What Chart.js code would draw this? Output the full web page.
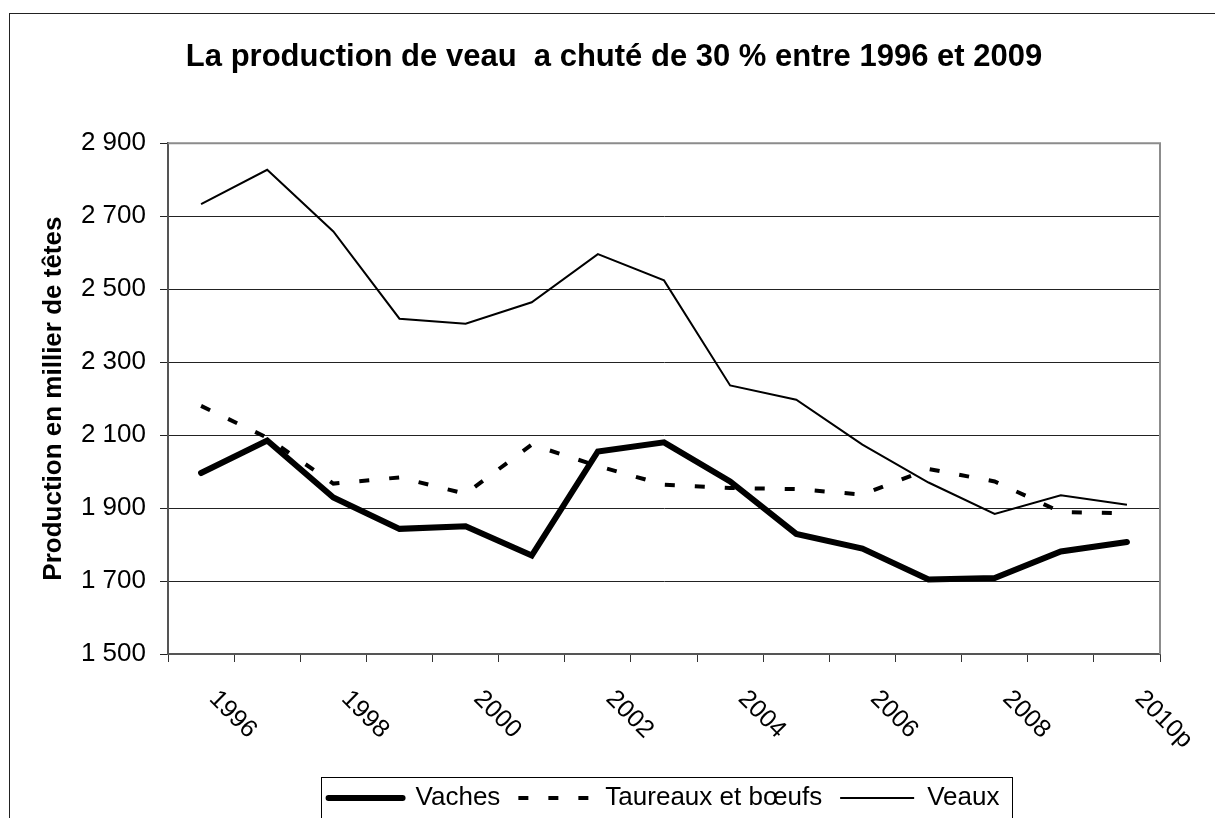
<!DOCTYPE html>
<html>
<head>
<meta charset="utf-8">
<script src="https://cdn.jsdelivr.net/npm/chart.js@4.4.1/dist/chart.umd.min.js"></script>
<style>
  html, body { margin: 0; padding: 0; background: #fff; }
  canvas { display: block; }
</style>
</head>
<body>
<canvas id="c" width="1215" height="818"></canvas>
<script>
// ---- data ----
const categories = ['1996','1997','1998','1999','2000','2001','2002','2003','2004','2005','2006','2007','2008','2009','2010p'];
const vaches   = [1996, 2085, 1929, 1843, 1850, 1770, 2055, 2080, 1973, 1829, 1789, 1704, 1708, 1781, 1807];
const taureaux = [2180, 2093, 1967, 1984, 1939, 2074, 2015, 1964, 1955, 1952, 1937, 2007, 1973, 1889, 1886];
const veaux    = [2733, 2827, 2658, 2419, 2405, 2464, 2596, 2524, 2236, 2197, 2074, 1970, 1884, 1935, 1909];
const yMin = 1500, yMax = 2900, yStep = 200;
const titleText = 'La production de veau  a chuté de 30 % entre 1996 et 2009';
const yTitleText = 'Production en millier de têtes';
const seriesNames = ['Vaches', 'Taureaux et bœufs', 'Veaux'];

const FONT = "'Liberation Sans', Arial, sans-serif";

function fmt(v) { return String(v).replace(/\B(?=(\d{3})+(?!\d))/g, ' '); }

const decor = {
  id: 'decor',
  beforeDatasetsDraw(chart) {
    const {ctx, chartArea: a} = chart;
    ctx.save();
    ctx.strokeStyle = '#8c8c8c';
    ctx.lineWidth = 2;
    ctx.beginPath();
    ctx.moveTo(a.left, a.top);
    ctx.lineTo(a.right, a.top);
    ctx.lineTo(a.right, a.bottom);
    ctx.stroke();
    ctx.restore();
  },
  afterDraw(chart) {
    const {ctx} = chart;
    const xs = chart.scales.x;
    // rotated category labels (every other category)
    ctx.save();
    ctx.fillStyle = '#000';
    ctx.font = '25px ' + FONT;
    ctx.textAlign = 'left';
    ctx.textBaseline = 'middle';
    categories.forEach((lab, i) => {
      if (i % 2 !== 0) return;
      const x = xs.getPixelForValue(i) + 12;
      const y = xs.top + 41;
      ctx.save();
      ctx.translate(x, y);
      ctx.rotate(Math.PI / 4);
      ctx.fillText(lab, 0, 0);
      ctx.restore();
    });
    ctx.restore();
    // legend frame
    const lg = chart.legend;
    if (lg && lg.legendHitBoxes && lg.legendHitBoxes.length) {
      const hb = lg.legendHitBoxes;
      let l = Infinity, r = -Infinity, t = Infinity, b = -Infinity;
      hb.forEach(h => { l = Math.min(l, h.left); r = Math.max(r, h.left + h.width); t = Math.min(t, h.top); b = Math.max(b, h.top + h.height); });
      ctx.save();
      ctx.strokeStyle = '#000';
      ctx.lineWidth = 1;
      ctx.strokeRect(Math.round(l - 8) + 0.5, Math.round(t - 8) + 0.5, Math.round(r - l + 20), Math.round(b - t + 16));
      ctx.restore();
    }
    // outer frame
    ctx.save();
    ctx.strokeStyle = '#222';
    ctx.lineWidth = 1;
    ctx.strokeRect(9.5, 13.5, 1300, 900);
    ctx.restore();
  }
};

new Chart(document.getElementById('c'), {
  type: 'line',
  data: {
    labels: categories,
    datasets: [
      { label: seriesNames[0], data: vaches, borderColor: '#000', backgroundColor: '#000', borderWidth: 6, borderCapStyle: 'round', pointRadius: 0, tension: 0, fill: false },
      { label: seriesNames[1], data: taureaux, borderColor: '#000', backgroundColor: '#000', borderWidth: 4, borderDash: [10, 20], borderCapStyle: 'butt', pointRadius: 0, tension: 0, fill: false },
      { label: seriesNames[2], data: veaux, borderColor: '#000', backgroundColor: '#000', borderWidth: 2, pointRadius: 0, tension: 0, fill: false }
    ]
  },
  options: {
    responsive: false,
    animation: false,
    devicePixelRatio: 1,
    layout: { padding: { left: 68, right: 55, top: 0, bottom: -3 } },
    plugins: {
      tooltip: { enabled: false },
      title: {
        display: true,
        text: titleText,
        color: '#000',
        font: { family: FONT, size: 31, weight: 'bold' },
        padding: { top: 39, bottom: 67 }
      },
      legend: {
        display: true,
        position: 'bottom',
        fullSize: false,
        labels: {
          usePointStyle: true,
          pointStyle: 'line',
          pointStyleWidth: 74,
          color: '#000',
          padding: 18,
          font: { family: FONT, size: 26 },
          generateLabels(chart) {
            const items = Chart.defaults.plugins.legend.labels.generateLabels(chart);
            items.forEach(it => {
              const ds = chart.data.datasets[it.datasetIndex];
              it.lineDash = ds.borderDash || [];
              it.lineWidth = ds.borderWidth;
              it.lineCap = ds.borderCapStyle || 'butt';
              it.strokeStyle = '#000';
              it.fillStyle = '#000';
              it.pointStyle = 'line';
            });
            return items;
          }
        }
      }
    },
    scales: {
      x: {
        type: 'category',
        offset: true,
        grid: { display: true, drawOnChartArea: false, drawTicks: true, tickLength: 8, color: '#333', offset: true },
        border: { display: true, color: '#555', width: 2 },
        ticks: { display: false },
        afterFit(s) { s.height = 113; }
      },
      y: {
        min: yMin,
        max: yMax,
        grid: { color: '#222', lineWidth: 1, tickLength: 8, drawTicks: true },
        border: { display: true, color: '#555', width: 2 },
        ticks: {
          stepSize: yStep,
          color: '#000',
          padding: 14,
          font: { family: FONT, size: 26 },
          callback: v => fmt(v)
        },
        title: {
          display: true,
          text: yTitleText,
          color: '#000',
          font: { family: FONT, size: 26, weight: 'bold' },
          padding: { top: -30, bottom: 0 }
        },
        afterFit(s) { s.width = 100; }
      }
    }
  },
  plugins: [decor]
});
</script>
</body>
</html>
